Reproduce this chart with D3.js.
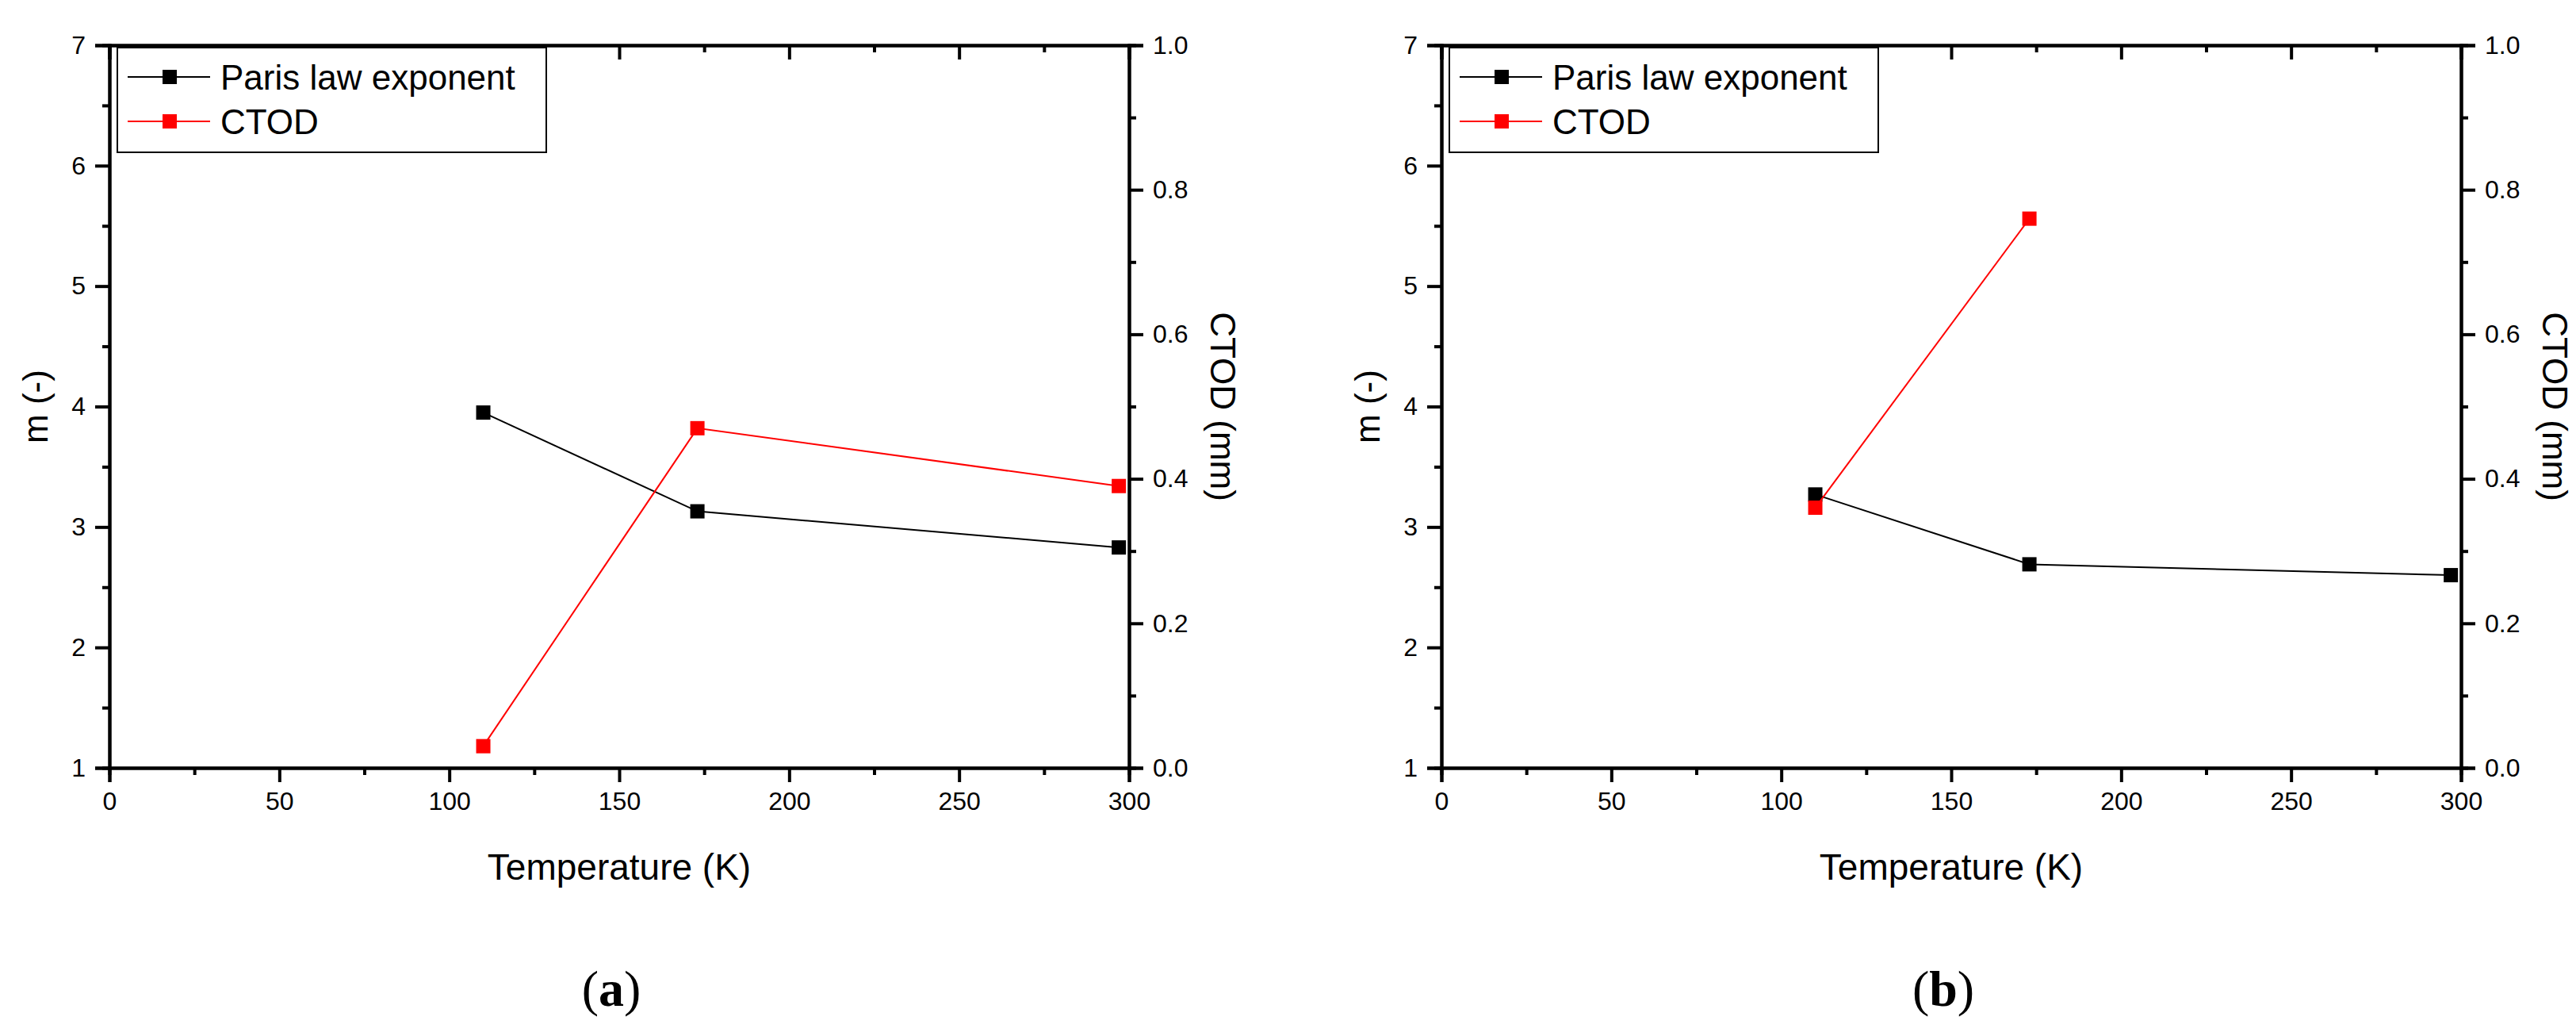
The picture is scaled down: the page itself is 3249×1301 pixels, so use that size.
<!DOCTYPE html>
<html>
<head>
<meta charset="utf-8">
<script src="https://cdn.jsdelivr.net/npm/d3@7"></script>
<style>
  body { margin: 0; background: #fff; }
  text { font-family: "Liberation Sans", Arial, sans-serif; }
</style>
</head>
<body>
<svg id="chart" width="3249" height="1301"></svg>
<script>
// temperatures (K)
const tempsA = [110, 173, 297];
const parisA = [3.95, 3.13, 2.83];
const ctodA = [0.03, 0.47, 0.39];

const tempsB = [110, 173, 297];
const parisB = [3.27, 2.69, 2.60];
const ctodB = [0.36, 0.76];

const panelLabels = ["a", "b"];

const svg = d3.select("#chart");

const w = 1286;
const h = 911;
const top0 = 57;

function drawPanel(left, temps, paris, ctod, label) {
  const g = svg.append("g").attr("transform", `translate(${left},${top0})`);

  const x = d3.scaleLinear().domain([0, 300]).range([0, w]);
  const yL = d3.scaleLinear().domain([1, 7]).range([h, 0]);
  const yR = d3.scaleLinear().domain([0, 1]).range([h, 0]);

  const styleAxis = (sel) => {
    sel.selectAll("path, line").attr("stroke", "#000").attr("stroke-width", 4);
    sel.select(".domain").attr("stroke-width", 4);
    sel.selectAll("text").attr("font-size", 32).attr("fill", "#000");
  };

  // minor ticks first, then major
  g.append("g").attr("transform", `translate(0,${h})`)
    .call(d3.axisBottom(x).tickValues(d3.range(25, 300, 50)).tickSize(9).tickFormat(""))
    .call(styleAxis);
  g.append("g").attr("transform", `translate(0,${h})`)
    .call(d3.axisBottom(x).tickValues(d3.range(0, 301, 50)).tickSize(18).tickPadding(12))
    .call(styleAxis);

  g.append("g")
    .call(d3.axisTop(x).tickValues(d3.range(25, 300, 50)).tickSize(-9).tickFormat(""))
    .call(styleAxis);
  g.append("g")
    .call(d3.axisTop(x).tickValues(d3.range(0, 301, 50)).tickSize(-18).tickFormat(""))
    .call(styleAxis);

  g.append("g")
    .call(d3.axisLeft(yL).tickValues(d3.range(1.5, 7, 1)).tickSize(9).tickFormat(""))
    .call(styleAxis);
  g.append("g")
    .call(d3.axisLeft(yL).tickValues(d3.range(1, 8, 1)).tickSize(18).tickPadding(12).tickFormat(d3.format("d")))
    .call(styleAxis);

  g.append("g").attr("transform", `translate(${w},0)`)
    .call(d3.axisRight(yR).tickValues(d3.range(0.1, 1, 0.2)).tickSize(9).tickFormat(""))
    .call(styleAxis);
  g.append("g").attr("transform", `translate(${w},0)`)
    .call(d3.axisRight(yR).tickValues([0, 0.2, 0.4, 0.6, 0.8, 1.0]).tickSize(18).tickPadding(12).tickFormat(d3.format(".1f")))
    .call(styleAxis);

  // axis titles
  g.append("text").attr("x", w / 2).attr("y", 1109 - top0)
    .attr("text-anchor", "middle").attr("font-size", 46).text("Temperature (K)");
  g.append("text").attr("transform", `translate(-78,${h / 2}) rotate(-90)`)
    .attr("text-anchor", "middle").attr("font-size", 44).text("m (-)");
  g.append("text").attr("transform", `translate(${w + 103},${h / 2}) rotate(90)`)
    .attr("text-anchor", "middle").attr("font-size", 44).text("CTOD (mm)");

  // series
  const series = [
    { vals: paris, y: yL, color: "#000" },
    { vals: ctod, y: yR, color: "#ff0000" }
  ];
  series.forEach(s => {
    const pts = s.vals.map((v, i) => [temps[i], v]);
    g.append("path")
      .attr("d", d3.line().x(d => x(d[0])).y(d => s.y(d[1]))(pts))
      .attr("fill", "none").attr("stroke", s.color).attr("stroke-width", 2);
    g.selectAll(null).data(pts).join("rect")
      .attr("x", d => x(d[0]) - 9).attr("y", d => s.y(d[1]) - 9)
      .attr("width", 18).attr("height", 18).attr("fill", s.color);
  });

  // legend
  const lg = g.append("g").attr("transform", "translate(10,3)");
  lg.append("rect").attr("width", 541).attr("height", 132)
    .attr("fill", "#fff").attr("stroke", "#000").attr("stroke-width", 2);
  [["Paris law exponent", "#000"], ["CTOD", "#ff0000"]].forEach((d, i) => {
    const yy = 37 + i * 56;
    lg.append("line").attr("x1", 13).attr("x2", 117).attr("y1", yy).attr("y2", yy)
      .attr("stroke", d[1]).attr("stroke-width", 2);
    lg.append("rect").attr("x", 57).attr("y", yy - 9).attr("width", 18).attr("height", 18).attr("fill", d[1]);
    lg.append("text").attr("x", 130).attr("y", yy + 16).attr("font-size", 44).text(d[0]);
  });

  // panel label
  const pl = svg.append("text").attr("x", left + w / 2 - 10).attr("y", 1268)
    .attr("text-anchor", "middle").attr("font-size", 64)
    .style("font-family", "'Liberation Serif', 'DejaVu Serif', serif");
  pl.append("tspan").text("(");
  pl.append("tspan").attr("font-weight", "bold").text(label);
  pl.append("tspan").text(")");
}

drawPanel(138, tempsA, parisA, ctodA, panelLabels[0]);
drawPanel(1818, tempsB, parisB, ctodB, panelLabels[1]);
</script>
</body>
</html>
